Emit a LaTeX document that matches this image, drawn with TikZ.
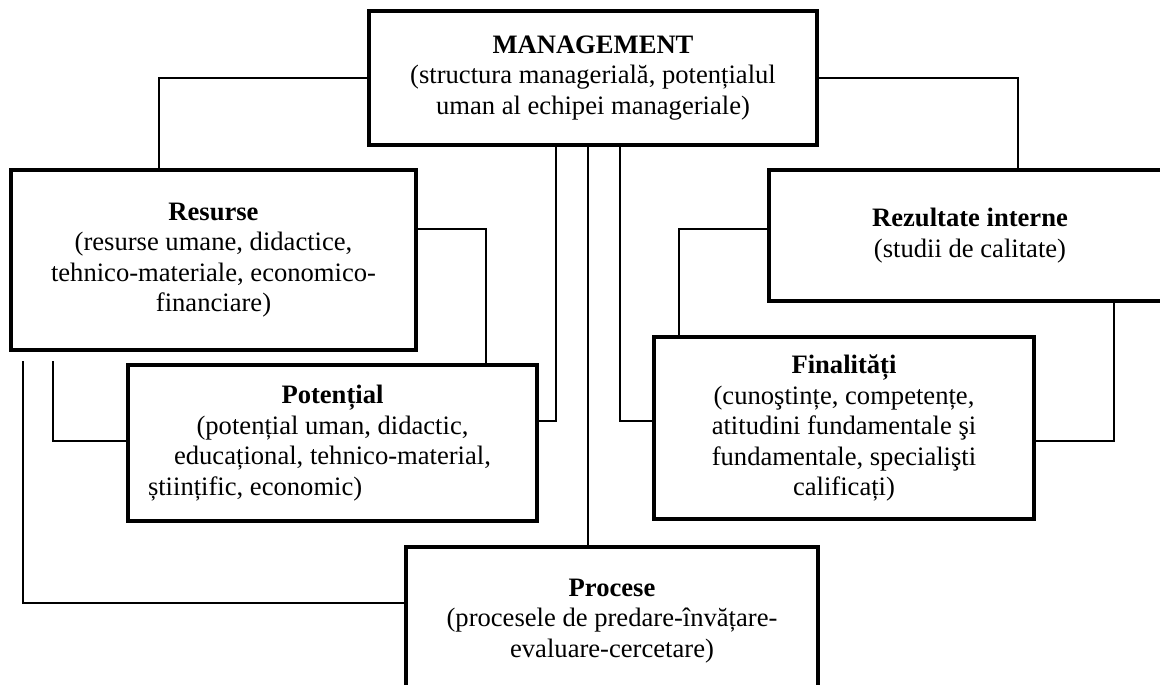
\documentclass[tikz,border=0pt]{standalone}
\usepackage{fontspec}
\setmainfont{Liberation Serif}
\usetikzlibrary{positioning}
\tikzstyle{box} = [draw, line width=4pt, align=center, inner sep=0pt, font=\fontsize{26.6}{30.5}\selectfont]
\tikzstyle{link} = [line width=1.3pt]

\begin{document}
\begin{tikzpicture}[x=1pt,y=-1pt]
\useasboundingbox (0,0) rectangle (1160,685);

% boxes
\node[box, minimum width=448pt, minimum height=134pt] (manag) at (593,78)
  {\textbf{MANAGEMENT}\\(structura managerială, potențialul\\uman al echipei manageriale)};
\node[box, minimum width=405pt, minimum height=180pt] (resurse) at (213.5,260)
  {\textbf{Resurse}\\(resurse umane, didactice,\\tehnico-materiale, economico-\\financiare)};
\node[box, minimum width=409pt, minimum height=156pt] (potential) at (332.5,443)
  {\textbf{Potențial}\\(potențial uman, didactic,\\educațional, tehnico-material,\\\makebox[369pt][l]{științific, economic)}};
\node[box, minimum width=402pt, minimum height=131pt] (rezult) at (970,235.5)
  {\textbf{Rezultate interne}\\(studii de calitate)};
\node[box, minimum width=380pt, minimum height=182pt] (final) at (844,428)
  {\textbf{Finalități}\\(cunoştințe, competențe,\\atitudini fundamentale şi\\fundamentale, specialişti\\calificați)};
\node[box, minimum width=412pt, minimum height=148pt] (procese) at (612,621)
  {\textbf{Procese}\\(procesele de predare-învățare-\\evaluare-cercetare)};

% free ends below Resurse
\coordinate (left1) at (23,361);
\coordinate (left2) at (53,361);

% connectors
\draw[link] (manag.west) -| ([xshift=-54.5pt]resurse.north);
\draw[link] (manag.east) -| ([xshift=48pt]rezult.north);
\draw[link] ([yshift=31pt]resurse.east) -| ([xshift=153.5pt]potential.north);
\draw[link] (left2) |- ([yshift=2pt]potential.west);
\draw[link] (left1) |- ([yshift=18pt]procese.west);
\draw[link] ([yshift=22pt]potential.east) -| ([xshift=-37pt]manag.south);
\draw[link] ([xshift=-5pt]manag.south) -- ([xshift=-5pt]manag.south |- procese.north);
\draw[link] ([yshift=7pt]final.west) -| ([xshift=27pt]manag.south);
\draw[link] ([yshift=6.5pt]rezult.west) -| ([xshift=-165pt]final.north);
\draw[link] ([xshift=144pt]rezult.south) |- ([yshift=-13pt]final.east);
\end{tikzpicture}
\end{document}
